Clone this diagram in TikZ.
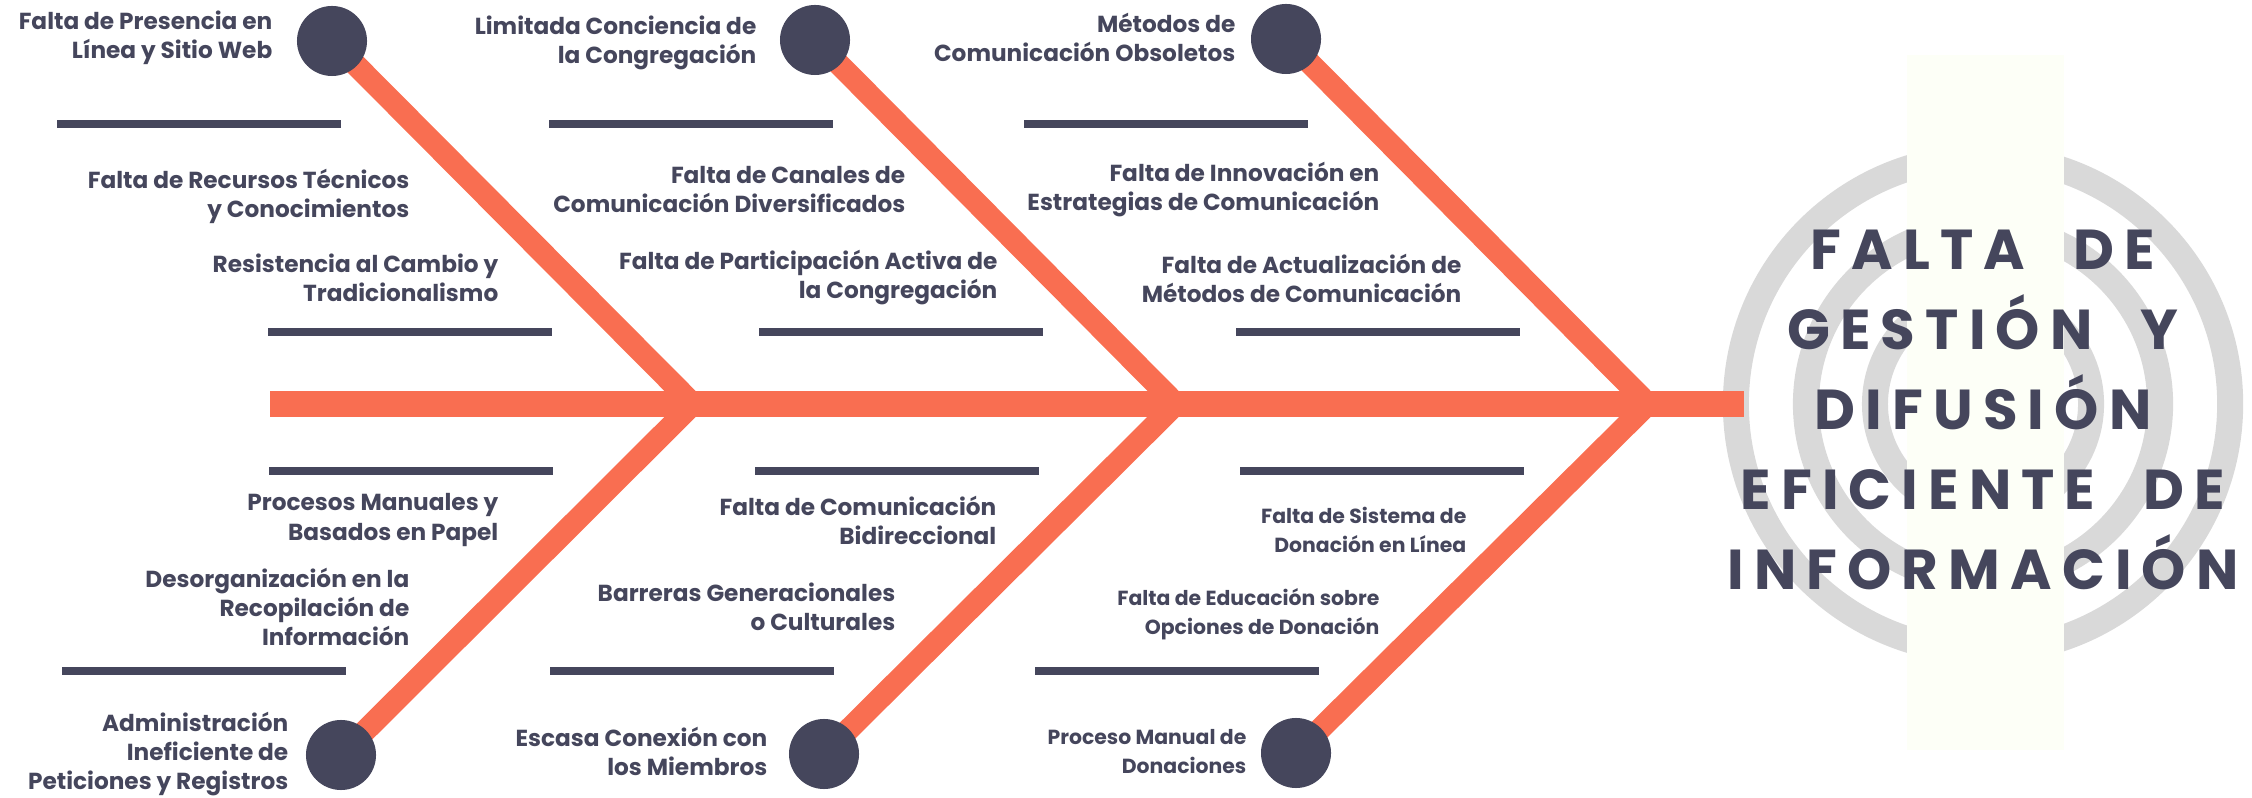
\documentclass[tikz,border=0pt]{standalone}
\usepackage{fontspec}
\setmainfont{Poppins}
\newfontfamily\titulofont{Poppins}[LetterSpace=18,WordSpace=2.2]
\definecolor{naranja}{HTML}{F96E51}
\definecolor{marino}{HTML}{45465C}
\definecolor{gris}{HTML}{D9D9D9}
\definecolor{crema}{HTML}{FDFFF7}
\tikzset{
  hueso/.style={line width=6.3pt, draw=naranja, line join=miter},
  espina/.style={line width=7.2pt, draw=naranja},
  raya/.style={line width=2pt, draw=marino},
  anillo/.style={line width=7.4pt, draw=gris},
  punto/.style={circle, fill=marino, minimum size=0.7cm, inner sep=0pt},
  causa/.style={anchor=east, align=right, text=marino, inner sep=0pt,
    font=\bfseries\fontsize{6.6}{8.25}\selectfont},
  causachica/.style={causa, font=\bfseries\fontsize{5.8}{8.25}\selectfont},
}
\begin{document}
\begin{tikzpicture}[x=0.01cm,y=-0.01cm]
  \useasboundingbox (0,0) rectangle (2252,798);
  % anillos del efecto
  \foreach \r in {2.47,1.77,1.08}
    \draw[anillo] (1983,404) circle (\r cm);
  \fill[crema] (1907,55) rectangle (2064,750);
  \node[text=marino, align=center, font=\titulofont\bfseries\fontsize{16}{22.8}\selectfont]
    (efecto) at (1983,410) {FALTA DE\\GESTIÓN Y\\DIFUSIÓN\\EFICIENTE DE\\INFORMACIÓN};
  % espina
  \coordinate (inicio) at (270,404);
  \coordinate (fin) at (1744,404);
  \coordinate (j1) at (693,404);
  \coordinate (j2) at (1176,404);
  \coordinate (j3) at (1648,404);
  \draw[espina] (inicio) -- (fin);
  % huesos
  \coordinate (c1) at (332,41);
  \coordinate (c2) at (815,40);
  \coordinate (c3) at (1286,39);
  \coordinate (c4) at (341,755);
  \coordinate (c5) at (824,754);
  \coordinate (c6) at (1296,753);
  \draw[hueso] (c1) -- (j1) -- (c4);
  \draw[hueso] (c2) -- (j2) -- (c5);
  \draw[hueso] (c3) -- (j3) -- (c6);
  \foreach \i in {1,...,6}
    \node[punto] (d\i) at (c\i) {};
  % rayas
  \foreach \xa/\ya in {57/124,549/124,1024/124,268/332,759/332,1236/332,
                       269/471,755/471,1240/471,62/671,550/671,1035/671}
    \draw[raya] (\xa,\ya) -- ++(284,0);
  % causas de arriba
  \node[causa] (a1) at (273,38) {Falta de Presencia en\\Línea y Sitio Web};
  \node[causa] (a2) at (757,43) {Limitada Conciencia de\\la Congregación};
  \node[causa] (a3) at (1236,37) {Métodos de\\Comunicación Obsoletos};
  \node[causa] (b1) at (410,196) {Falta de Recursos Técnicos\\y Conocimientos};
  \node[causa] (b2) at (906,190) {Falta de Canales de\\Comunicación Diversificados};
  \node[causa] (b3) at (1380,190) {Falta de Innovación en\\Estrategias de Comunicación};
  \node[causa] (e1) at (499,278) {Resistencia al Cambio y\\Tradicionalismo};
  \node[causa] (e2) at (998,278) {Falta de Participación Activa de\\la Congregación};
  \node[causa] (e3) at (1462,278) {Falta de Actualización de\\Métodos de Comunicación};
  % causas de abajo
  \node[causa] (f1) at (499,520) {Procesos Manuales y\\Basados en Papel};
  \node[causa] (f2) at (997,520) {Falta de Comunicación\\Bidireccional};
  \node[causachica] (f3) at (1467,530) {Falta de Sistema de\\Donación en Línea};
  \node[causa] (g1) at (410,607) {Desorganización en la\\Recopilación de\\Información};
  \node[causa] (g2) at (896,607) {Barreras Generacionales\\o Culturales};
  \node[causachica] (g3) at (1380,614) {Falta de Educación sobre\\Opciones de Donación};
  \node[causa] (h1) at (289,754) {Administración\\Ineficiente de\\Peticiones y Registros};
  \node[causa] (h2) at (768,751) {Escasa Conexión con\\los Miembros};
  \node[causachica] (h3) at (1247,752) {Proceso Manual de\\Donaciones};
\end{tikzpicture}
\end{document}
